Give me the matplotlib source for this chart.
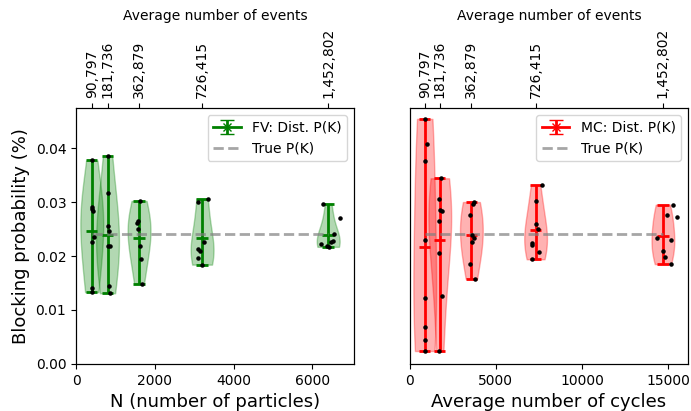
import numpy as np
import matplotlib
matplotlib.use("Agg")
import matplotlib.pyplot as plt

# x positions for the two panels, and the event counts for the top axis
n_particles = [400, 800, 1600, 3200, 6400]
avg_cycles = [865, 1740, 3575, 7305, 14700]
avg_events = [90797, 181736, 362879, 726415, 1452802]
true_pk = 0.0241

# blocking probability samples, one list per run size
fv_samples = [
	[0.0377, 0.0287, 0.0290, 0.0284, 0.0235, 0.0226, 0.0141, 0.0133],
	[0.0386, 0.0317, 0.0256, 0.0247, 0.0218, 0.0218, 0.0144, 0.0131],
	[0.0302, 0.0265, 0.0261, 0.0250, 0.0218, 0.0195, 0.0149],
	[0.0306, 0.0300, 0.0226, 0.0213, 0.0210, 0.0197, 0.0184],
	[0.0297, 0.0270, 0.0240, 0.0227, 0.0226, 0.0222, 0.0218, 0.0217],
]
mc_samples = [
	[0.0454, 0.0407, 0.0376, 0.0230, 0.0123, 0.0069, 0.0044, 0.0024],
	[0.0344, 0.0305, 0.0286, 0.0284, 0.0265, 0.0205, 0.0126, 0.0024],
	[0.0300, 0.0296, 0.0276, 0.0239, 0.0234, 0.0226, 0.0186, 0.0158],
	[0.0332, 0.0302, 0.0260, 0.0250, 0.0224, 0.0220, 0.0207, 0.0194],
	[0.0295, 0.0276, 0.0273, 0.0234, 0.0229, 0.0210, 0.0199, 0.0185],
]

# relative horizontal jitter of each dot (fraction of its x position)
fv_jitter = [
	[0, 0, 0.04, 0.08, 0.15, 0, 0, 0],
	[0, 0, 0, 0.04, 0, 0.07, 0.04, 0.07],
	[0.016, -0.01, -0.027, -0.01, 0.016, 0.027, 0.052],
	[0.047, -0.032, 0.013, -0.034, -0.018, -0.034, 0],
	[-0.022, 0.047, 0.024, 0.021, 0.011, -0.029, -0.005, 0.004],
]
mc_jitter = [
	[0, 0.12, 0.05, 0.05, 0, 0.05, 0.05, 0.05],
	[0.057, -0.034, 0.023, 0.078, -0.034, -0.034, 0.078, -0.034],
	[0.044, 0.028, -0.016, 0.011, 0.044, 0.011, -0.016, 0.054],
	[0.053, 0.006, 0.006, 0.019, -0.027, -0.027, 0.027, -0.027],
	[0.040, 0.017, 0.057, -0.023, 0.031, 0, 0.007, 0.031],
]


# one violin panel with scattered samples, true value line and top axis
def drawPanel(ax, positions, samples, jitter, color, label, xlabel, xlim, width):
	parts = ax.violinplot(samples, positions=positions, widths=width, showmeans=True,
		bw_method=0.9)
	for body in parts["bodies"]:
		body.set_facecolor(color)
		body.set_edgecolor(color)
		body.set_alpha(0.3)
	for key in ["cmeans", "cmins", "cmaxes", "cbars"]:
		parts[key].set_color(color)
		parts[key].set_linewidth(2)

	for pos, vals, jit in zip(positions, samples, jitter):
		xs = pos * (1 + np.array(jit))
		ax.scatter(xs, vals, s=5, color="black", zorder=3)

	dist = ax.errorbar([np.nan], [np.nan], yerr=[np.nan], color=color, marker="x",
		capsize=5, linewidth=2, label=label)
	true_line, = ax.plot([positions[0], positions[-1]], [true_pk, true_pk], "--",
		color="grey", alpha=0.7, linewidth=2, label="True P(K)")
	ax.set_xlim(xlim)
	ax.set_ylim(0, 0.0474)
	ax.set_xlabel(xlabel, fontsize=13)
	ax.legend(handles=[dist, true_line], loc="upper right")

	top = ax.twiny()
	top.set_xlim(xlim)
	top.set_xticks(positions)
	top.set_xticklabels([f"{e:,}" for e in avg_events], rotation=90)
	top.set_xlabel("Average number of events", labelpad=6)


fig, (ax1, ax2) = plt.subplots(1, 2, figsize=(6.91, 4.11), dpi=100)
fig.subplots_adjust(left=0.110, right=0.9957, bottom=0.1144, top=0.737, wspace=0.2)

drawPanel(ax1, n_particles, fv_samples, fv_jitter, "green", "FV: Dist. P(K)",
	"N (number of particles)", (0, 7060), 580)
drawPanel(ax2, avg_cycles, mc_samples, mc_jitter, "red", "MC: Dist. P(K)",
	"Average number of cycles", (0, 16160), 1320)

ax1.set_ylabel("Blocking probability (%)", fontsize=13)
ax1.set_yticks([0.0, 0.01, 0.02, 0.03, 0.04])
ax2.set_yticks([])

plt.savefig("out.png")
